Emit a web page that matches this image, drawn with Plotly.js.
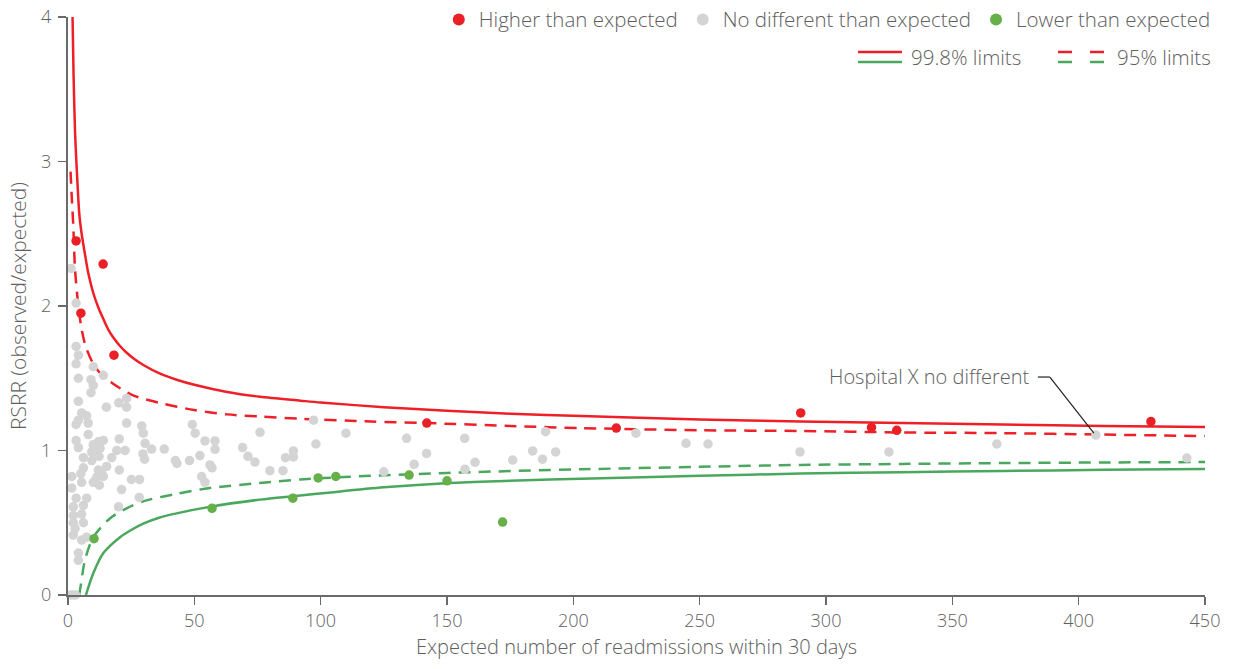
<!DOCTYPE html>
<html>
<head>
<meta charset="utf-8">
<script src="https://cdn.plot.ly/plotly-3.0.1.min.js"></script>
<style>
  html, body { margin: 0; padding: 0; background: #fff; }
  #chart { width: 1236px; height: 669px; }
</style>
</head>
<body>
<div id="chart"></div>
<script>
// ---- Data ----
// Hospitals: expected readmissions (x) and RSRR (y)
const higherE = [3.2, 13.9, 5.1, 18.2, 142, 217, 290, 318, 328, 428.6];
const higherV = [2.45, 2.29, 1.95, 1.66, 1.19, 1.155, 1.26, 1.16, 1.14, 1.20];

const lowerE = [10.3, 57, 89, 99, 106, 135, 150, 172];
const lowerV = [0.39, 0.60, 0.67, 0.81, 0.82, 0.83, 0.79, 0.505];

const sameE = [1.2,3.2,3.2,4.1,3.2,10.0,14.0,4.1,9.1,10.0,9.1,4.1,15.2,20.1,23.2,23.2,5.4,7.4,8.0,3.2,4.1,23.2,29.2,29.8,30.5,49.2,50.3,8.0,3.2,4.1,10.0,12.0,14.0,12.7,9.4,10.7,20.3,19.3,22.6,33.1,38.1,17.3,6.1,9.4,12.3,29.7,30.3,15.3,6.1,5.1,1.5,12.0,13.3,14.0,11.4,5.4,10.0,12.4,20.3,1.5,25.1,28.3,21.2,3.2,7.4,2.1,6.1,2.1,5.4,28.2,20.0,2.1,6.1,2.8,2.1,5.4,7.4,4.1,4.1,1.0,2.0,3.0,
  52.2,48.1,42.5,43.1,54.2,58.2,58.2,56.2,57.0,52.9,54.2,69.1,71.2,74.0,76.0,79.9,85.1,86.1,89.2,89.2,97.2,98.1,110.0,125.0,134.0,137.0,141.9,157.0,161.1,157.1,176.0,183.9,187.8,189.0,193.0,224.8,244.6,253.3,289.7,324.9,367.6,406.8,442.8];
const sameV = [2.26,2.02,1.72,1.66,1.60,1.58,1.52,1.50,1.49,1.45,1.40,1.34,1.30,1.33,1.36,1.30,1.26,1.24,1.19,1.18,1.21,1.19,1.17,1.12,1.05,1.18,1.12,1.11,1.07,1.02,1.04,1.06,1.07,1.015,0.99,1.00,1.08,1.00,1.00,1.01,1.01,0.95,0.95,0.93,0.96,0.976,0.94,0.89,0.88,0.84,0.82,0.865,0.84,0.82,0.815,0.78,0.78,0.76,0.865,0.74,0.80,0.80,0.73,0.67,0.67,0.61,0.62,0.55,0.56,0.675,0.61,0.50,0.50,0.46,0.415,0.38,0.40,0.29,0.24,0,0,0,
  0.965,0.93,0.93,0.91,1.066,1.066,1.008,0.90,0.88,0.82,0.78,1.02,0.96,0.92,1.126,0.86,0.86,0.95,0.997,0.955,1.21,1.045,1.12,0.853,1.084,0.904,0.98,1.084,0.918,0.87,0.934,0.997,0.94,1.13,0.99,1.12,1.05,1.045,0.99,0.99,1.045,1.107,0.948];

// Control limits
const upper998E = [1.8, 2.2, 2.8, 3.6, 4.5, 5.4, 6.7, 8, 10, 12, 14, 16, 18, 20.5, 23, 26.5, 30, 36, 43, 50, 63, 76, 92, 100, 125, 150, 175, 200, 250, 290, 330, 370, 410, 450];
const upper998V = [4.0, 3.6, 3.2, 2.9, 2.63, 2.5, 2.36, 2.23, 2.09, 1.99, 1.91, 1.835, 1.78, 1.725, 1.68, 1.63, 1.59, 1.535, 1.49, 1.455, 1.405, 1.372, 1.345, 1.332, 1.30, 1.275, 1.255, 1.24, 1.215, 1.20, 1.19, 1.18, 1.17, 1.163];

const upper95E = [1.0, 1.5, 2.1, 2.8, 4.1, 5.4, 7, 10, 13, 18, 26, 36, 50, 63, 76, 92, 120, 142, 175, 203, 250, 290, 330, 370, 410, 450];
const upper95V = [2.93, 2.75, 2.55, 2.25, 2.0, 1.84, 1.72, 1.6, 1.53, 1.46, 1.38, 1.33, 1.28, 1.25, 1.235, 1.22, 1.20, 1.19, 1.17, 1.155, 1.14, 1.135, 1.125, 1.12, 1.11, 1.10];

const lower998E = [7.1, 10, 14, 20.6, 25, 30, 36, 43, 56, 76, 90, 104, 125, 151, 175, 203, 250, 290, 330, 370, 410, 450];
const lower998V = [0.0, 0.15, 0.29, 0.40, 0.45, 0.495, 0.535, 0.565, 0.61, 0.66, 0.685, 0.71, 0.745, 0.775, 0.79, 0.805, 0.825, 0.84, 0.85, 0.858, 0.866, 0.872];

const lower95E = [4.4, 5.0, 6.7, 10, 16.6, 23.2, 30, 43, 56, 76, 92, 104, 120, 150, 203, 250, 290, 330, 370, 410, 450];
const lower95V = [0.0, 0.06, 0.24, 0.40, 0.53, 0.60, 0.65, 0.70, 0.74, 0.775, 0.80, 0.812, 0.825, 0.845, 0.87, 0.887, 0.90, 0.907, 0.913, 0.917, 0.92];

const xTicks = [0, 50, 100, 150, 200, 250, 300, 350, 400, 450];
const yTicks = [0, 1, 2, 3, 4];

const hospitalX = { E: 406.8, V: 1.107, label: "Hospital X no different" };

// ---- Styles ----
const RED = "#ee1f26";
const GREEN = "#4aa85e";
const RED_DOT = "#ea2027";
const GREEN_DOT = "#66b04a";
const GREY_DOT = "#d4d4d4";
const TXT = "#5e5e5e";
const FONT = "'Open Sans', Roboto, sans-serif";
const tf = (size) => ({ family: FONT, size, color: TXT, weight: 300 });

const lineTrace = (x, y, color, dash) => ({
  x, y, type: "scatter", mode: "lines",
  line: { color, width: 2.5, dash, shape: "spline", smoothing: 0.8 },
  showlegend: false, hoverinfo: "skip"
});

const traces = [
  lineTrace(lower998E, lower998V, GREEN, "solid"),
  lineTrace(lower95E, lower95V, GREEN, "12px,8px"),
  lineTrace(upper998E, upper998V, RED, "solid"),
  lineTrace(upper95E, upper95V, RED, "12px,8px"),
  { x: sameE, y: sameV, type: "scatter", mode: "markers", name: "No different than expected",
    marker: { color: GREY_DOT, size: 9.5 }, cliponaxis: false, legendrank: 2 },
  { x: higherE, y: higherV, type: "scatter", mode: "markers", name: "Higher than expected",
    marker: { color: RED_DOT, size: 9.5 }, cliponaxis: false, legendrank: 1 },
  { x: lowerE, y: lowerV, type: "scatter", mode: "markers", name: "Lower than expected",
    marker: { color: GREEN_DOT, size: 9.5 }, cliponaxis: false, legendrank: 3 }
];

const shapes = [
  // custom legend row 2
  { type: "line", xref: "paper", yref: "paper", x0: 0.6948, x1: 0.7335, y0: 0.9394, y1: 0.9394, line: { color: RED, width: 2.5 } },
  { type: "line", xref: "paper", yref: "paper", x0: 0.6948, x1: 0.7335, y0: 0.9221, y1: 0.9221, line: { color: GREEN, width: 2.5 } },
  { type: "line", xref: "paper", yref: "paper", x0: 0.8707, x1: 0.9112, y0: 0.9394, y1: 0.9394, line: { color: RED, width: 2.5, dash: "14px,18px" } },
  { type: "line", xref: "paper", yref: "paper", x0: 0.8707, x1: 0.9112, y0: 0.9221, y1: 0.9221, line: { color: GREEN, width: 2.5, dash: "14px,18px" } },
  // leader line for Hospital X
  { type: "line", xref: "x", yref: "y", xsizemode: "pixel", ysizemode: "pixel",
    xanchor: hospitalX.E, yanchor: hospitalX.V, x0: -58, x1: -46, y0: 58, y1: 58, line: { color: "#222", width: 1.2 } },
  { type: "line", xref: "x", yref: "y", xsizemode: "pixel", ysizemode: "pixel",
    xanchor: hospitalX.E, yanchor: hospitalX.V, x0: -46, x1: -2, y0: 58, y1: 2, line: { color: "#222", width: 1.2 } }
];

const annotations = [
  { xref: "paper", yref: "paper", x: 0.7400, y: 0.9308, xanchor: "left", yanchor: "middle",
    text: "99.8% limits", showarrow: false, font: tf(20.5) },
  { xref: "paper", yref: "paper", x: 0.9210, y: 0.9308, xanchor: "left", yanchor: "middle",
    text: "95% limits", showarrow: false, font: tf(20.5) },
  { xref: "x", yref: "y", x: hospitalX.E, y: hospitalX.V, xanchor: "right", yanchor: "middle",
    xshift: -64, yshift: 59, text: hospitalX.label, showarrow: false, font: tf(20) }
];

const layout = {
  width: 1236, height: 669,
  margin: { l: 68, r: 31, t: 17, b: 74, autoexpand: false },
  paper_bgcolor: "#ffffff", plot_bgcolor: "#ffffff",
  font: tf(18),
  showlegend: true,
  legend: { orientation: "h", x: 1.0095, xanchor: "right", y: 1.03, yanchor: "top",
    font: tf(20.5), bgcolor: "rgba(0,0,0,0)", itemsizing: "constant", tracegroupgap: 0 },
  xaxis: {
    range: [0, 450], tickvals: xTicks, ticktext: xTicks.map(String),
    showgrid: false, zeroline: false, showline: true, linecolor: "#6a6a6a", linewidth: 2,
    ticks: "outside", ticklen: 8, tickcolor: "#6a6a6a", tickwidth: 1.5,
    tickfont: tf(18),
    title: { text: "Expected number of readmissions within 30 days", standoff: 9, font: tf(20) }
  },
  yaxis: {
    range: [0, 4], tickvals: yTicks, ticktext: yTicks.map(String),
    showgrid: false, zeroline: false, showline: true, linecolor: "#6a6a6a", linewidth: 2,
    ticks: "outside", ticklen: 8, tickcolor: "#6a6a6a", tickwidth: 1.5,
    ticklabelstandoff: 3,
    tickfont: tf(18),
    title: { text: "RSRR (observed/expected)", standoff: 9, font: tf(21) }
  },
  shapes, annotations
};

Plotly.newPlot("chart", traces, layout, { displayModeBar: false, staticPlot: true });
</script>
</body>
</html>
